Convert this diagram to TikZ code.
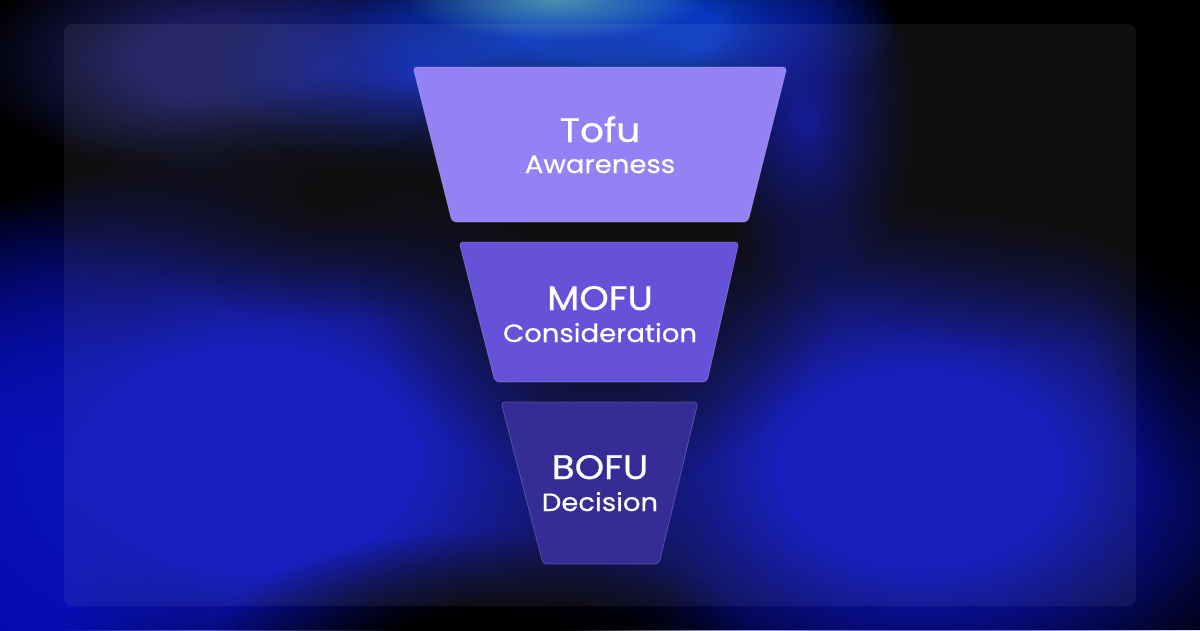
\documentclass[tikz,border=0pt]{standalone}
\usepackage{fontspec}
\setmainfont{Poppins}[FakeStretch=1.1, FakeBold=0.6]
\usetikzlibrary{fadings}
\tikzfading[name=softblob, inner color=transparent!0, outer color=transparent!100]
\pgfdeclareradialshading{plateaushade}{\pgfpointorigin}{color(0bp)=(transparent!0); color(9bp)=(transparent!0); color(18bp)=(transparent!55); color(25bp)=(transparent!100); color(50bp)=(transparent!100)}
\pgfdeclarefading{plateau}{\pgfuseshading{plateaushade}}
\definecolor{tofuC}{HTML}{9481F3}
\definecolor{mofuC}{HTML}{6652D9}
\definecolor{bofuC}{HTML}{352C96}
\definecolor{blueA}{HTML}{0A12BA}
\definecolor{blueB}{HTML}{0008A8}
\definecolor{blueC}{HTML}{0A12B8}
\definecolor{navyA}{HTML}{1A1C5E}
\definecolor{blueD}{HTML}{0C22B0}
\definecolor{blueE}{HTML}{0838C0}
\definecolor{tealA}{HTML}{4A90B0}
\tikzset{
  blob/.style={path fading=plateau},
  soft/.style={path fading=softblob},
  stage/.style={line width=0.8pt, draw=white, draw opacity=0.22, rounded corners=4pt},
  title/.style={text=white, font=\fontsize{34}{34}\selectfont, anchor=base},
  sub/.style={text=white, font=\fontsize{25}{25}\selectfont, anchor=base},
}
\begin{document}
\begin{tikzpicture}[x=1pt,y=-1pt]
\useasboundingbox (0,0) rectangle (1200,630);
\fill[black] (0,0) rectangle (1200,630);
% background glow
\fill[blueB, blob] (0,560) ellipse [x radius=200, y radius=360];
\fill[blueA, blob] (250,460) ellipse [x radius=460, y radius=310];
\fill[blueC, blob] (920,470) ellipse [x radius=390, y radius=270];
\fill[navyA, blob] (230,60) ellipse [x radius=260, y radius=120];
\fill[blueD, soft] (420,70) ellipse [x radius=200, y radius=110];
\fill[blueE, blob] (620,30) ellipse [x radius=280, y radius=90];
\fill[tealA, soft] (555,0) ellipse [x radius=150, y radius=40];
\fill[blueC, soft] (810,120) ellipse [x radius=110, y radius=170];
\fill[black, blob] (480,660) ellipse [x radius=280, y radius=130];
\fill[black, soft] (330,200) ellipse [x radius=250, y radius=120];
\fill[black, soft] (600,260) ellipse [x radius=240, y radius=230];
\fill[black, soft] (1010,150) ellipse [x radius=260, y radius=200];
\fill[black, soft] (1200,200) ellipse [x radius=120, y radius=300];
% panel
\fill[white, fill opacity=0.06, rounded corners=8pt] (64,24) rectangle (1136,606);
% funnel stages
\path[stage, fill=tofuC] (413,67) -- (787,67) -- (748,222) -- (452,222) -- cycle;
\path[stage, fill=mofuC] (459,242) -- (739,242) -- (707,382) -- (495,382) -- cycle;
\path[stage, fill=bofuC] (501,402) -- (698,402) -- (659,564) -- (543,564) -- cycle;
% labels
\node[title] (tofu) at (600,142) {Tofu};
\node[sub] (aware) at (600,173) {Awareness};
\node[title] (mofu) at (600,310) {MOFU};
\node[sub] (consid) at (600,342) {Consideration};
\node[title] (bofu) at (600,479) {BOFU};
\node[sub] (decis) at (600,511) {Decision};
\end{tikzpicture}
\end{document}
